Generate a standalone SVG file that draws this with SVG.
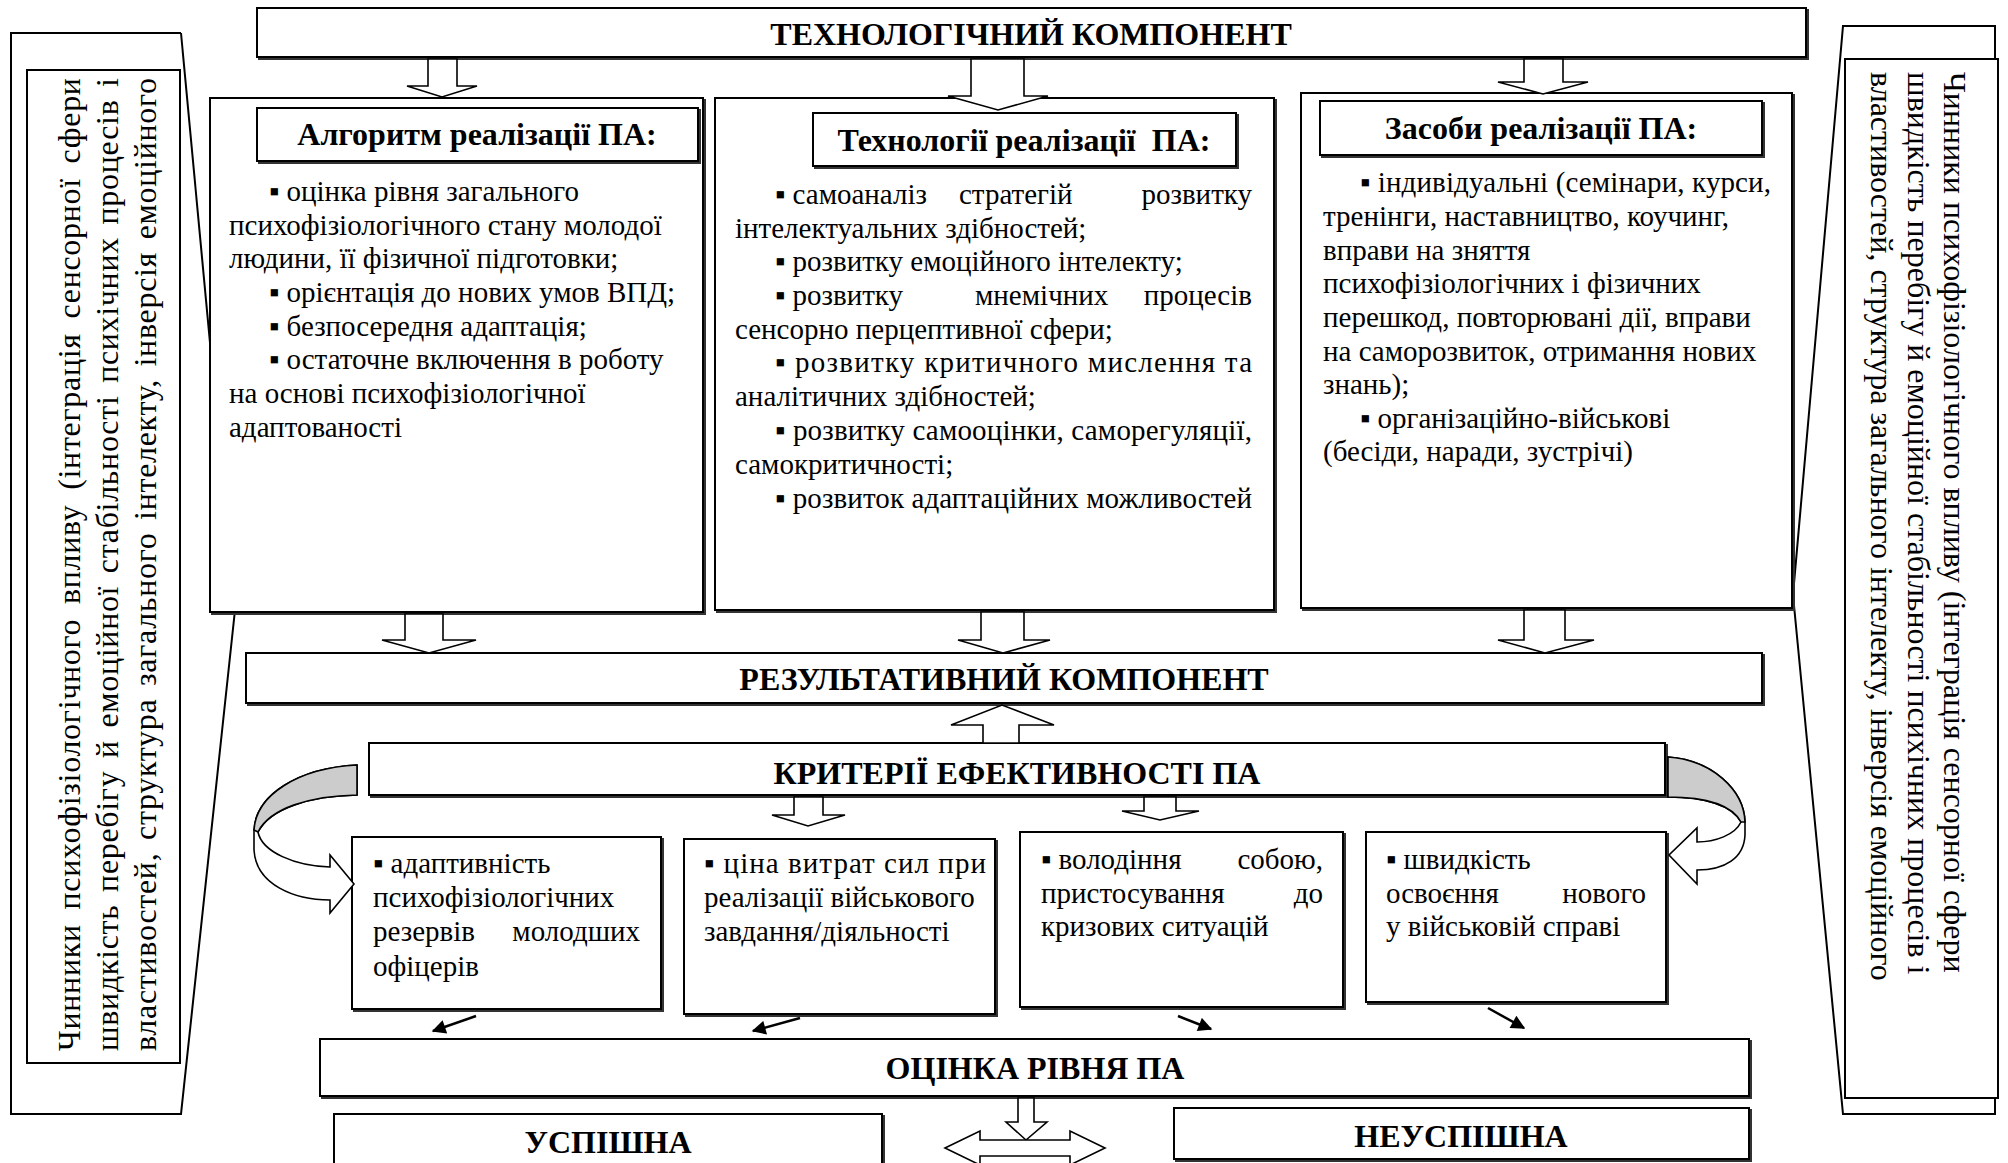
<svg xmlns="http://www.w3.org/2000/svg" width="2008" height="1163" viewBox="0 0 2008 1163">
<style>
.box{fill:#fff;stroke:#000;stroke-width:2}
.sh{fill:none;stroke:#333;stroke-width:2}
.ln{fill:none;stroke:#000;stroke-width:2}
.ba{fill:#fff;stroke:#000;stroke-width:1.6;stroke-linejoin:miter}
.t{font-family:"Liberation Serif","Times New Roman",serif;font-size:29px;fill:#000}
.b{font-family:"Liberation Serif","Times New Roman",serif;font-weight:bold;font-size:32px;fill:#000;text-anchor:middle}
.r{font-family:"Liberation Serif","Times New Roman",serif;font-size:32px;fill:#000}
.e{text-anchor:end}
</style>
<defs>
<marker id="ahb" viewBox="0 0 10 10" refX="9" refY="5" markerWidth="16" markerHeight="14" orient="auto" markerUnits="userSpaceOnUse">
<path d="M0,0 L10,5 L0,10 Z" fill="#000"/>
</marker>
</defs>
<rect width="2008" height="1163" fill="#fff"/>

<!-- side callouts -->
<g id="left-panel">
<polyline class="ln" points="181,33 11,33 11,1114 181,1114 235,610"/>
<line class="ln" x1="181" y1="33" x2="235" y2="610"/>
<rect class="box" x="27" y="70" width="153" height="993"/>
<text class="r" transform="translate(80,1051) rotate(-90)" textLength="973" lengthAdjust="spacing" word-spacing="6">Чинники психофізіологічного впливу (інтеграція сенсорної сфери</text>
<text class="r" transform="translate(118,1051) rotate(-90)" textLength="973" lengthAdjust="spacing" word-spacing="4">швидкість перебігу й емоційної стабільності психічних процесів і</text>
<text class="r" transform="translate(156,1051) rotate(-90)" textLength="973" lengthAdjust="spacing" word-spacing="4">властивостей, структура загального інтелекту, інверсія емоційного</text>
</g>
<g id="right-panel">
<polygon class="ln" points="1843,26 1995,26 1995,1114 1843,1114 1793,595"/>
<rect class="box" x="1845" y="59" width="153" height="1039"/>
<text class="r" transform="translate(1944,72) rotate(90)">Чинники психофізіологічного впливу (інтеграція сенсорної сфери</text>
<text class="r" transform="translate(1908,72) rotate(90)">швидкість перебігу й емоційної стабільності психічних процесів і</text>
<text class="r" transform="translate(1871,72) rotate(90)">властивостей, структура загального інтелекту, інверсія емоційного</text>
</g>

<g id="tech-component">
<rect class="sh" x="259" y="10" width="1549" height="49"/>
<rect class="box" x="257" y="8" width="1549" height="49"/>
<text class="b" x="1031" y="45">ТЕХНОЛОГІЧНИЙ КОМПОНЕНТ</text>
</g>

<g id="algorithm">
<rect class="sh" x="212" y="100" width="493" height="514"/>
<rect class="box" x="210" y="98" width="493" height="514"/>
<rect class="sh" x="259" y="110" width="441" height="53"/>
<rect class="box" x="257" y="108" width="441" height="53"/>
<text class="b" x="477" y="145">Алгоритм реалізації ПА:</text>
<text class="t" x="269" y="201">▪ оцінка рівня загального</text>
<text class="t" x="229" y="235">психофізіологічного стану молодої</text>
<text class="t" x="229" y="268">людини, її фізичної підготовки;</text>
<text class="t" x="269" y="302">▪ орієнтація до нових умов ВПД;</text>
<text class="t" x="269" y="336">▪ безпосередня адаптація;</text>
<text class="t" x="269" y="369">▪ остаточне включення в роботу</text>
<text class="t" x="229" y="403">на основі психофізіологічної</text>
<text class="t" x="229" y="437">адаптованості</text>
</g>

<g id="technologies">
<rect class="sh" x="717" y="100" width="559" height="512"/>
<rect class="box" x="715" y="98" width="559" height="512"/>
<rect class="sh" x="815" y="115" width="423" height="53"/>
<rect class="box" x="813" y="113" width="423" height="53"/>
<text class="b" x="1024" y="151" xml:space="preserve">Технології реалізації  ПА:</text>
<text class="t" x="775" y="204">▪ самоаналіз</text>
<text class="t" x="959" y="204">стратегій</text>
<text class="t e" x="1252" y="204">розвитку</text>
<text class="t" x="735" y="238">інтелектуальних здібностей;</text>
<text class="t" x="775" y="271">▪ розвитку емоційного інтелекту;</text>
<text class="t" x="775" y="305">▪ розвитку</text>
<text class="t" x="975" y="305">мнемічних</text>
<text class="t e" x="1252" y="305">процесів</text>
<text class="t" x="735" y="339">сенсорно перцептивної сфери;</text>
<text class="t" x="775" y="372" textLength="477" lengthAdjust="spacing">▪ розвитку критичного мислення та</text>
<text class="t" x="735" y="406">аналітичних здібностей;</text>
<text class="t" x="775" y="440" textLength="477" lengthAdjust="spacing">▪ розвитку самооцінки, саморегуляції,</text>
<text class="t" x="735" y="474">самокритичності;</text>
<text class="t" x="775" y="508" textLength="477" lengthAdjust="spacing">▪ розвиток адаптаційних можливостей</text>
</g>

<g id="means">
<rect class="sh" x="1303" y="95" width="491" height="515"/>
<rect class="box" x="1301" y="93" width="491" height="515"/>
<rect class="sh" x="1322" y="103" width="442" height="54"/>
<rect class="box" x="1320" y="101" width="442" height="54"/>
<text class="b" x="1541" y="139">Засоби реалізації ПА:</text>
<text class="t" x="1360" y="192" textLength="411" lengthAdjust="spacing">▪ індивідуальні (семінари, курси,</text>
<text class="t" x="1323" y="226">тренінги, наставництво, коучинг,</text>
<text class="t" x="1323" y="260">вправи на зняття</text>
<text class="t" x="1323" y="293">психофізіологічних і фізичних</text>
<text class="t" x="1323" y="327">перешкод, повторювані дії, вправи</text>
<text class="t" x="1323" y="361">на саморозвиток, отримання нових</text>
<text class="t" x="1323" y="394">знань);</text>
<text class="t" x="1360" y="428">▪ організаційно-військові</text>
<text class="t" x="1323" y="461">(бесіди, наради, зустрічі)</text>
</g>

<g id="result-component">
<rect class="sh" x="248" y="655" width="1516" height="50"/>
<rect class="box" x="246" y="653" width="1516" height="50"/>
<text class="b" x="1004" y="690">РЕЗУЛЬТАТИВНИЙ КОМПОНЕНТ</text>
</g>

<g id="criteria">
<rect class="sh" x="371" y="745" width="1296" height="52"/>
<rect class="box" x="369" y="743" width="1296" height="52"/>
<text class="b" x="1017" y="784">КРИТЕРІЇ ЕФЕКТИВНОСТІ ПА</text>
</g>

<g id="crit-1">
<rect class="sh" x="354" y="839" width="309" height="172"/>
<rect class="box" x="352" y="837" width="309" height="172"/>
<text class="t" x="373" y="873">▪ адаптивність</text>
<text class="t" x="373" y="907">психофізіологічних</text>
<text class="t" x="373" y="941">резервів</text>
<text class="t e" x="640" y="941">молодших</text>
<text class="t" x="373" y="976">офіцерів</text>
</g>

<g id="crit-2">
<rect class="sh" x="686" y="841" width="311" height="175"/>
<rect class="box" x="684" y="839" width="311" height="175"/>
<text class="t" x="704" y="873" textLength="282" lengthAdjust="spacing">▪ ціна витрат сил при</text>
<text class="t" x="704" y="907">реалізації військового</text>
<text class="t" x="704" y="941">завдання/діяльності</text>
</g>

<g id="crit-3">
<rect class="sh" x="1022" y="834" width="323" height="175"/>
<rect class="box" x="1020" y="832" width="323" height="175"/>
<text class="t" x="1041" y="869">▪ володіння</text>
<text class="t e" x="1323" y="869">собою,</text>
<text class="t" x="1041" y="903">пристосування</text>
<text class="t e" x="1323" y="903">до</text>
<text class="t" x="1041" y="936">кризових ситуацій</text>
</g>

<g id="crit-4">
<rect class="sh" x="1368" y="834" width="300" height="170"/>
<rect class="box" x="1366" y="832" width="300" height="170"/>
<text class="t" x="1386" y="869">▪ швидкість</text>
<text class="t" x="1386" y="903">освоєння</text>
<text class="t e" x="1646" y="903">нового</text>
<text class="t" x="1386" y="936">у військовій справі</text>
</g>

<g id="assessment">
<rect class="sh" x="322" y="1041" width="1429" height="57"/>
<rect class="box" x="320" y="1039" width="1429" height="57"/>
<text class="b" x="1035" y="1079">ОЦІНКА РІВНЯ ПА</text>
</g>

<g id="success">
<rect class="sh" x="336" y="1116" width="548" height="70"/>
<rect class="box" x="334" y="1114" width="548" height="70"/>
<text class="b" x="608" y="1153">УСПІШНА</text>
</g>

<g id="failure">
<rect class="sh" x="1176" y="1110" width="575" height="51"/>
<rect class="box" x="1174" y="1108" width="575" height="51"/>
<text class="b" x="1461" y="1147">НЕУСПІШНА</text>
</g>

<!-- connectors -->
<g id="connectors">
<path class="ba" d="M428,59 L457,59 L457,86 L477,86 L442,97 L407,86 L428,86 Z"/>
<path class="ba" d="M971,59 L1024,59 L1024,96 L1048,96 L998,110 L948,96 L971,96 Z"/>
<path class="ba" d="M1524,59 L1563,59 L1563,82 L1588,82 L1543,94 L1498,82 L1524,82 Z"/>
<path class="ba" d="M405,614 L443,614 L443,640 L476,640 L429,653 L382,640 L405,640 Z"/>
<path class="ba" d="M981,612 L1024,612 L1024,640 L1050,640 L1003,653 L958,640 L981,640 Z"/>
<path class="ba" d="M1524,610 L1565,610 L1565,640 L1594,640 L1545,653 L1498,640 L1524,640 Z"/>
<path class="ba" d="M983,743 L1019,743 L1019,725 L1054,725 L1002,705 L951,725 L983,725 Z"/>
<path class="ba" d="M794,797 L823,797 L823,815 L845,815 L808,826 L772,815 L794,815 Z"/>
<path class="ba" d="M1144,797 L1176,797 L1176,811 L1199,811 L1160,820 L1122,811 L1144,811 Z"/>
<path class="ba" d="M1018,1098 L1034,1098 L1034,1122 L1047,1122 L1026,1140 L1006,1122 L1018,1122 Z"/>
<path class="ba" d="M945,1148 L980,1131 L980,1140 L1070,1140 L1070,1131 L1105,1148 L1070,1165 L1070,1156 L980,1156 L980,1165 Z"/>
<path class="ba" d="M357,765 C298,768 256,795 254,830 L254,850 C256,885 295,900 330,900 L330,913 L354,884 L330,855 L330,867 C295,866 262,852 258,832 C270,808 310,796 357,795 Z"/>
<path d="M357,765 C298,768 256,795 254,830 L258,832 C270,808 310,796 357,795 Z" fill="#ccc" stroke="#000" stroke-width="1.6"/>
<path class="ba" d="M1668,757 C1712,760 1744,790 1745,822 L1745,835 C1744,858 1725,870 1697,870 L1697,884 L1669,855 L1697,828 L1697,842 C1715,842 1735,835 1741,822 C1732,805 1705,797 1668,797 Z"/>
<path d="M1668,757 C1712,760 1744,790 1745,822 L1741,822 C1732,805 1705,797 1668,797 Z" fill="#ccc" stroke="#000" stroke-width="1.6"/>
<line x1="476" y1="1016" x2="433" y2="1031" stroke="#000" stroke-width="2.5" marker-end="url(#ahb)"/>
<line x1="800" y1="1018" x2="753" y2="1031" stroke="#000" stroke-width="2.5" marker-end="url(#ahb)"/>
<line x1="1178" y1="1016" x2="1211" y2="1029" stroke="#000" stroke-width="2.5" marker-end="url(#ahb)"/>
<line x1="1488" y1="1008" x2="1524" y2="1028" stroke="#000" stroke-width="2.5" marker-end="url(#ahb)"/>
</g>
</svg>
